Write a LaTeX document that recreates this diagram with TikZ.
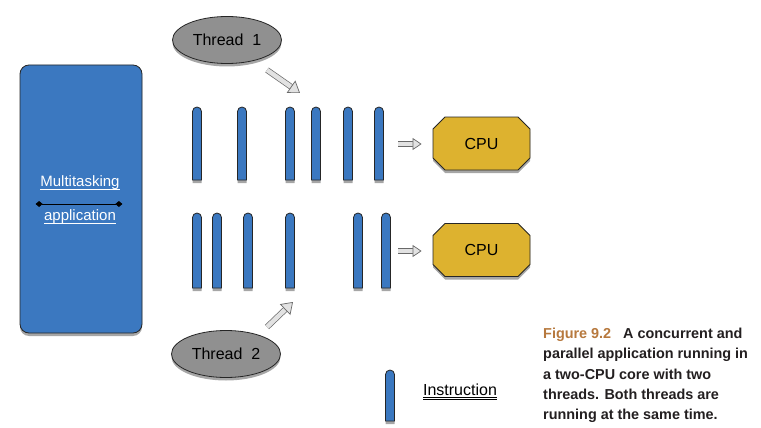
\documentclass[tikz,border=0pt]{standalone}
\usepackage{fontspec}
\setmainfont{Liberation Sans}
\usetikzlibrary{shapes.geometric,shapes.misc,shadows,arrows.meta,calc}
\definecolor{appblue}{RGB}{59,120,192}
\definecolor{threadgray}{RGB}{144,144,144}
\definecolor{cpugold}{RGB}{221,178,47}
\definecolor{figbrown}{RGB}{183,121,62}
\definecolor{captext}{RGB}{35,31,32}
\definecolor{arrowfill}{RGB}{226,226,226}
\definecolor{arrowdraw}{RGB}{105,105,105}
\newcommand\ulword[1]{\setbox0\hbox{#1}\rlap{\vrule height -1.8pt depth 2.8pt width \wd0}\box0}
\newcommand\uulword[1]{\setbox0\hbox{#1}\rlap{\vrule height -1.8pt depth 2.6pt width \wd0}\rlap{\vrule height -3.6pt depth 4.4pt width \wd0}\box0}
\begin{document}
\begin{tikzpicture}[x=1pt,y=-1pt,
    shade/.style={drop shadow={shadow xshift=0pt,shadow yshift=-3pt,opacity=0.35,fill=black}},
    bar/.style={draw=black!85,fill=appblue,line width=0.8pt,shade},
    appbox/.style={draw=black!85,fill=appblue,line width=0.8pt,rounded corners=9pt,
      minimum width=122,minimum height=268,shade},
    apptext/.style={text=white,font=\fontsize{15}{18}\selectfont},
    threadnode/.style={ellipse,draw=black!85,fill=threadgray,line width=0.8pt,
      minimum width=109,minimum height=47,font=\fontsize{16}{19}\selectfont,shade},
    cpunode/.style={chamfered rectangle,chamfered rectangle xsep=6pt,chamfered rectangle ysep=6pt,
      draw=black!85,fill=cpugold,line width=0.8pt,minimum width=97,minimum height=53,
      font=\fontsize{16}{19}\selectfont,shade},
    fatarrow/.style={draw=arrowdraw,line width=0.7pt,double=arrowfill,double distance=4.5pt,
      -{Triangle[length=11pt,width=15pt,fill=arrowfill]}},
    smallarrow/.style={draw=arrowdraw,line width=0.7pt,double=arrowfill,double distance=4pt,
      -{Triangle[length=9pt,width=12pt,fill=arrowfill]}},
    diamline/.style={black,line width=1pt,{Diamond[length=7pt,width=6pt]}-{Diamond[length=7pt,width=6pt]}},
    caption/.style={align=left,inner sep=0pt,text=captext,font=\bfseries\fontsize{14.4}{20.3}\selectfont}]
  \useasboundingbox[fill=white] (0,0) rectangle (761,428);

  % application
  \node[appbox] (app) at (81,199) {};
  \node[apptext] (multi) at (80,183) {\ulword{Multitasking}};
  \node[apptext] (appl) at (80,217) {\ulword{application}};
  \draw[diamline] ($(app.west)+(16,5)$) -- ($(app.east)+(-20,5)$);

  % threads
  \node[threadnode] (thread1) at (227,40) {Thread~~1};
  \node[threadnode] (thread2) at (226,354) {Thread~~2};

  % instructions
  \foreach \x in {197,242,290,316,348,379}
    \draw[bar] (\x-4.5,180) -- (\x-4.5,111.5) arc[start angle=180,end angle=360,radius=4.5] -- (\x+4.5,180) -- cycle;
  \foreach \x in {197,217,248,290,358,386}
    \draw[bar] (\x-4.5,288) -- (\x-4.5,217.5) arc[start angle=180,end angle=360,radius=4.5] -- (\x+4.5,288) -- cycle;

  % cpus
  \node[cpunode] (cpu1) at (481.5,143.5) {CPU};
  \node[cpunode] (cpu2) at (481.5,250) {CPU};

  % arrows
  \coordinate (t1tail) at (267,70);
  \coordinate (t1tip) at (300,93);
  \coordinate (t2tail) at (267,327);
  \coordinate (t2tip) at (293,302);
  \draw[fatarrow] (t1tail) -- (t1tip);
  \draw[fatarrow] (t2tail) -- (t2tip);
  \coordinate (c1tail) at (398,144);
  \coordinate (c2tail) at (398,251);
  \draw[smallarrow] (c1tail) -- ([xshift=-11pt]cpu1.west |- c1tail);
  \draw[smallarrow] (c2tail) -- ([xshift=-11pt]cpu2.west |- c2tail);

  % legend
  \draw[bar] (385.5,421) -- (385.5,374.5) arc[start angle=180,end angle=360,radius=4.5] -- (394.5,421) -- cycle;
  \node[font=\fontsize{16}{19}\selectfont] (instr) at (460,392) {\uulword{Instruction}};

  % caption
  \node[caption,anchor=north west] (cap) at (543,328) {\textcolor{figbrown}{Figure 9.2}\hspace{12pt}A concurrent and\\
    parallel application running in\\
    a two-CPU core with two\\
    threads. Both threads are\\
    running at the same time.};
\end{tikzpicture}
\end{document}
